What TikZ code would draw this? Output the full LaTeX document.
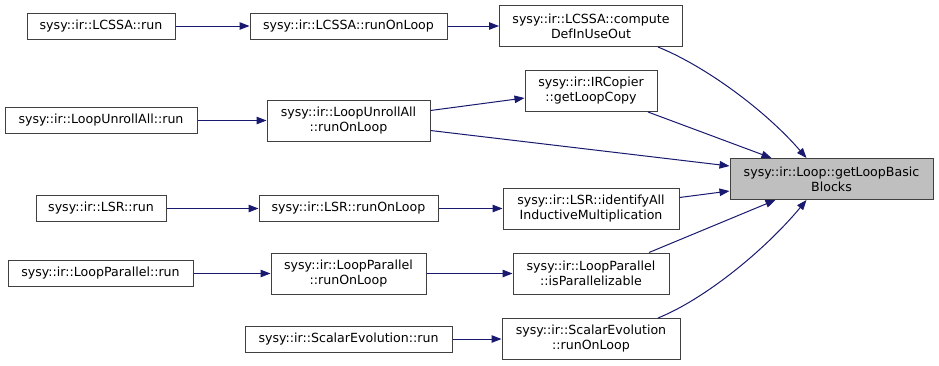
\documentclass[tikz,border=0pt]{standalone}
\usepackage{fontspec}
\setmainfont{DejaVu Sans}
\usetikzlibrary{arrows.meta,calc}
\definecolor{edgeblue}{HTML}{191970}
\definecolor{boxline}{HTML}{404040}
\definecolor{focusfill}{HTML}{BFBFBF}
\begin{document}
\begin{tikzpicture}[x=1pt,y=-1pt,
  fn/.style={draw=boxline, line width=1pt, fill=white, rectangle, inner sep=0pt,
    align=center, font=\fontsize{12.6}{15}\selectfont, text=black},
  one/.style={fn, minimum height=26pt},
  two/.style={fn, minimum height=41pt},
  focus/.style={two, fill=focusfill},
  call/.style={draw=edgeblue, line width=1pt, -{Triangle[length=10pt,width=7.5pt]}}]
\useasboundingbox (0,0) rectangle (939,365);
\fill[white] (0,0) rectangle (939,365);

% left column: entry points
\node[one, minimum width=148pt] (lcrun) at (101,26) {sysy::ir::LCSSA::run};
\node[one, minimum width=192pt] (lurun) at (101,120.5) {sysy::ir::LoopUnrollAll::run};
\node[one, minimum width=130pt] (lsrrun) at (101,208.5) {sysy::ir::LSR::run};
\node[one, minimum width=185pt] (lprun) at (100.5,273.5) {sysy::ir::LoopParallel::run};

% middle column
\node[one, minimum width=197pt] (lcloop) at (348.5,26) {sysy::ir::LCSSA::runOnLoop};
\node[two, minimum width=163pt] (luloop) at (348.5,120.5) {sysy::ir::LoopUnrollAll\\::runOnLoop};
\node[one, minimum width=179pt] (lsrloop) at (348.5,208.5) {sysy::ir::LSR::runOnLoop};
\node[two, minimum width=155pt] (lploop) at (348.5,273.5) {sysy::ir::LoopParallel\\::runOnLoop};
\node[one, minimum width=207pt] (serun) at (348.5,339) {sysy::ir::ScalarEvolution::run};

% right column: direct callers
\node[two, minimum width=183pt] (lcdef) at (591,26) {sysy::ir::LCSSA::compute\\DefInUseOut};
\node[two, minimum width=132pt] (copy) at (591,91) {sysy::ir::IRCopier\\::getLoopCopy};
\node[two, minimum width=176pt] (lsrid) at (591,208.5) {sysy::ir::LSR::identifyAll\\InductiveMultiplication};
\node[two, minimum width=156pt] (lppar) at (591,273.5) {sysy::ir::LoopParallel\\::isParallelizable};
\node[two, minimum width=178pt] (seloop) at (591,339) {sysy::ir::ScalarEvolution\\::runOnLoop};

% the function being called
\node[focus, minimum width=203pt] (blocks) at (831.5,179) {sysy::ir::Loop::getLoopBasic\\Blocks};

% calls
\draw[call] (lcrun) -- (lcloop);
\draw[call] (lurun) -- (luloop);
\draw[call] (lsrrun) -- (lsrloop);
\draw[call] (lprun) -- (lploop);
\draw[call] (serun) -- (seloop);
\draw[call] (lcloop) -- (lcdef);
\draw[call] (lsrloop) -- (lsrid);
\draw[call] (lploop) -- (lppar);
\draw[call] ($(luloop.east)+(0,-10)$) -- ($(copy.west)+(0,7)$);
\draw[call] ($(luloop.east)+(0,10)$) -- ($(blocks.west)+(0,-13)$);
\draw[call] ($(copy.south)+(57,0)$) -- ($(blocks.north)+(-60,0)$);
\draw[call] ($(lsrid.east)+(0,-11)$) -- ($(blocks.west)+(0,12)$);
\draw[call] ($(lppar.north)+(58,0)$) -- ($(blocks.south)+(-56,0)$);
\draw[call] ($(lcdef.south)+(67,0)$) .. controls (705,66) and (765,110) .. ($(blocks.north)+(-25,0)$);
\draw[call] ($(seloop.north)+(67,0)$) .. controls (705,299) and (765,250) .. ($(blocks.south)+(-25,0)$);
\end{tikzpicture}
\end{document}
